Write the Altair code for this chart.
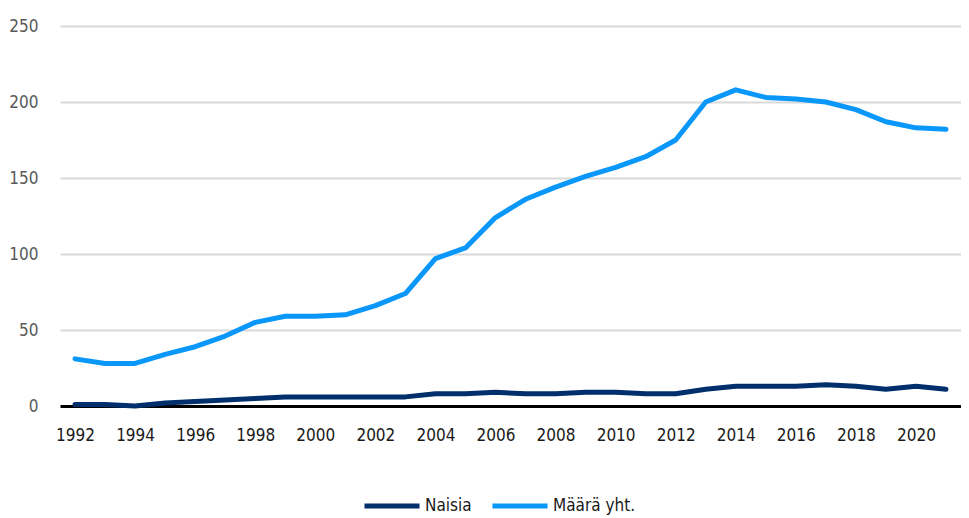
import altair as alt
import pandas as pd

years = [str(y) for y in range(1992, 2022)]
naisia = [1, 1, 0, 2, 3, 4, 5, 6, 6, 6,
          6, 6, 8, 8, 9, 8, 8, 9, 9, 8,
          8, 11, 13, 13, 13, 14, 13, 11, 13, 11]
maara = [31, 28, 28, 34, 39, 46, 55, 59, 59, 60,
         66, 74, 97, 104, 124, 136, 144, 151, 157, 164,
         175, 200, 208, 203, 202, 200, 195, 187, 183, 182]
series = ["Naisia", "Määrä yht."]
colors = ["#002F6C", "#0A97FA"]
y_ticks = [0, 50, 100, 150, 200, 250]
x_labels = [y for y in years if int(y) % 2 == 0]

rows = []
for i, yr in enumerate(years):
    rows.append({"year": yr, "series": series[0], "value": naisia[i]})
    rows.append({"year": yr, "series": series[1], "value": maara[i]})
df = pd.DataFrame(rows)

FONT = "DejaVu Sans Condensed, sans-serif"

chart = alt.Chart(df).mark_line(
    strokeWidth=5, strokeCap="round", strokeJoin="round"
).encode(
    x=alt.X("year:O", sort=years,
            scale=alt.Scale(type="point", padding=0.5),
            axis=alt.Axis(values=x_labels, title=None, labelAngle=0, ticks=False,
                          domainColor="black", domainWidth=3, labelPadding=21,
                          grid=False, labelColor="#1a1a1a")),
    y=alt.Y("value:Q", scale=alt.Scale(domain=[0, 250], nice=False),
            axis=alt.Axis(values=y_ticks, title=None, domain=False, ticks=False,
                          gridColor="#d9d9d9", gridWidth=2, labelColor="#595959",
                          labelPadding=22)),
    color=alt.Color("series:N", sort=series,
                    scale=alt.Scale(domain=series, range=colors),
                    legend=alt.Legend(title=None, orient="none", direction="horizontal",
                                      legendX=302, legendY=450, symbolType="stroke",
                                      symbolStrokeWidth=5, symbolSize=3025,
                                      labelOffset=3, columnPadding=10)),
).properties(
    width=901, height=380,
    autosize=alt.AutoSizeParams(type="none"),
    padding={"left": 52, "top": 18, "right": 0, "bottom": 112},
).configure_axis(
    labelFont=FONT, labelFontSize=17
).configure_legend(
    labelFont=FONT, labelFontSize=17, labelColor="#1a1a1a"
).configure_view(stroke=None)

chart.save("out.html", embed_options={"renderer": "svg", "actions": False})
